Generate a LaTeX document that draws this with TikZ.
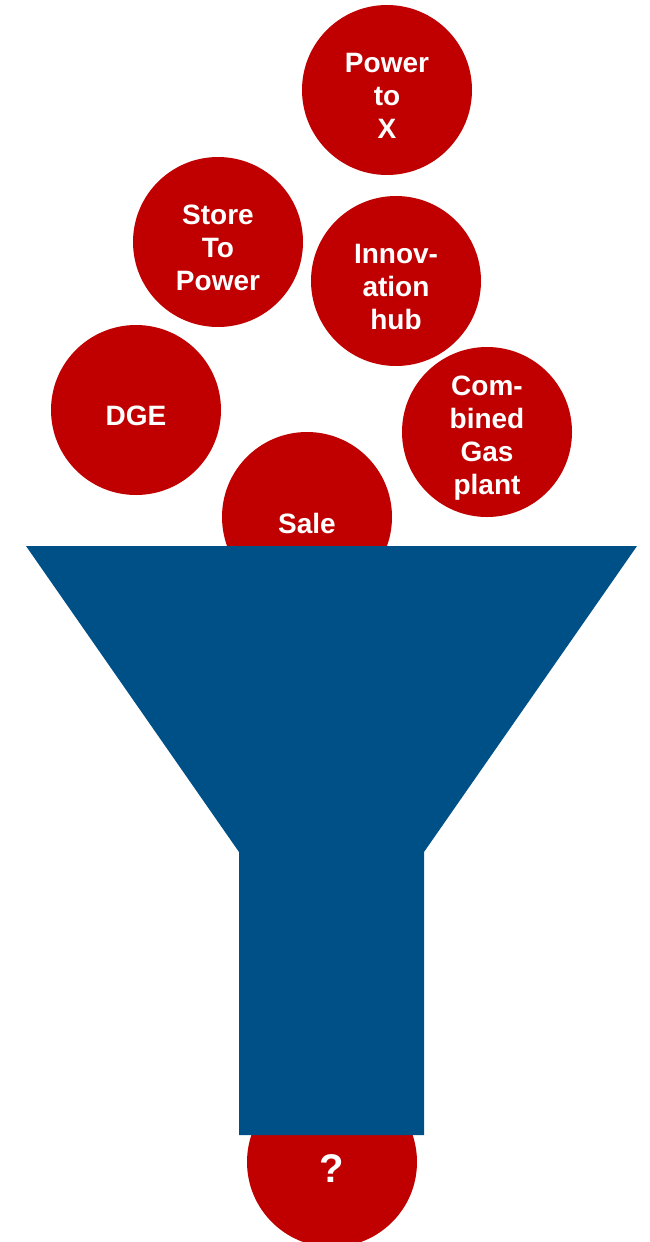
\documentclass[tikz,border=0pt]{standalone}
\usepackage{fontspec}
\setmainfont{Liberation Sans}
\definecolor{ballred}{HTML}{C00000}
\definecolor{funnelblue}{HTML}{005088}
\begin{document}
\begin{tikzpicture}[x=1pt,y=-1pt,
  ball/.style={circle,fill=ballred,draw=none,minimum size=170pt,inner sep=0pt},
  balltext/.style={text=white,font=\fontsize{28}{33}\selectfont\bfseries,align=center,inner sep=0pt}]
\useasboundingbox (0,0) rectangle (649,1242);
\begin{scope}
\clip (0,0) rectangle (649,1242);
% balls
\node[ball] (ptx) at (387,90) {};
\node[ball] (stp) at (218,242) {};
\node[ball] (inh) at (396,281) {};
\node[ball] (dge) at (136,410) {};
\node[ball] (cgp) at (487,432) {};
\node[ball] (sale) at (307,517) {};
\node[ball] (q) at (332,1162) {};
% labels
\node[balltext] (ptxt) at ([yshift=-6]ptx.center) {Power\\to\\X};
\node[balltext] (stpt) at ([yshift=-6]stp.center) {Store\\To\\Power};
\node[balltext] (inht) at ([yshift=-6]inh.center) {Innov-\\ation\\hub};
\node[balltext] (dget) at ([yshift=-6]dge.center) {DGE};
\node[balltext] (cgpt) at ([yshift=-6]cgp.center) {Com-\\bined\\Gas\\plant};
\node[balltext] (salet) at ([yshift=-6]sale.center) {Sale};
\node[balltext,font=\fontsize{40}{44}\selectfont\bfseries] (qt) at ([yshift=-7]q.center) {?};
% funnel
\fill[funnelblue] (26,546) -- (637,546) -- (424,852) -- (424,1135) -- (239,1135) -- (239,852) -- cycle;
\end{scope}
\end{tikzpicture}
\end{document}
